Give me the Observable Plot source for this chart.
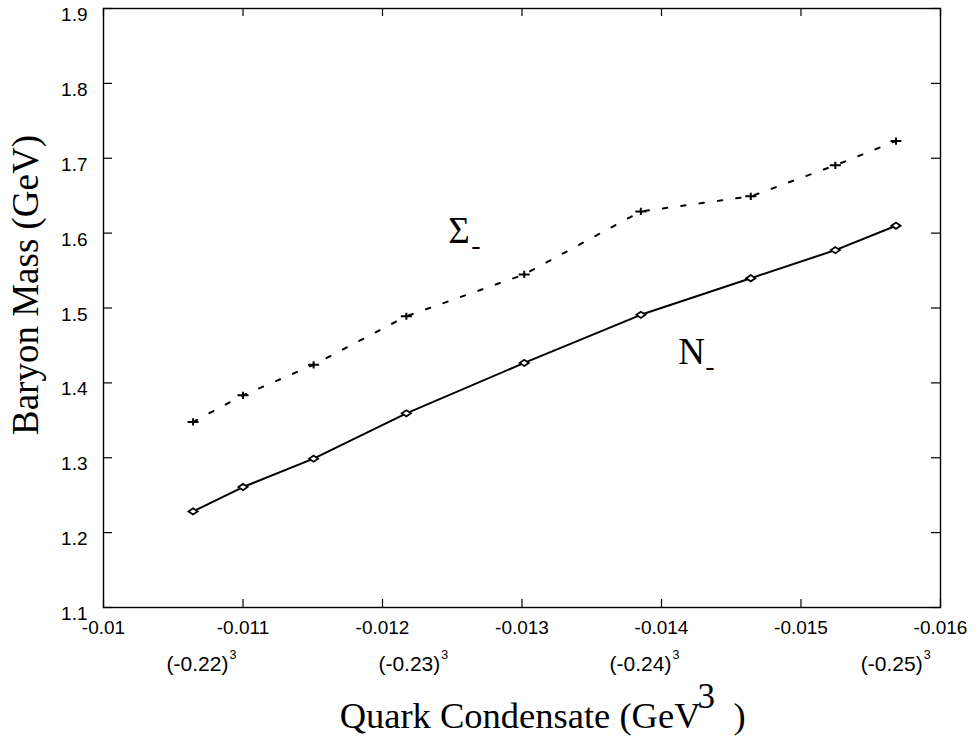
<!DOCTYPE html>
<html><head><meta charset="utf-8">
<script src="https://cdn.jsdelivr.net/npm/d3@7"></script>
<script src="https://cdn.jsdelivr.net/npm/@observablehq/plot@0.6"></script>
<style>
html,body{margin:0;padding:0;background:#fff;}
#chart{width:979px;height:736px;}
</style></head><body><div id="chart"></div>
<script>
// ---- data ----
const condensate = [-0.010642, -0.011000, -0.011506, -0.012171, -0.013016, -0.013852, -0.014640, -0.015246, -0.015681];
const nucleonMass = [1.2283, 1.2609, 1.2988, 1.3593, 1.4267, 1.4909, 1.5398, 1.5773, 1.6099];
const sigmaMass   = [1.3479, 1.3834, 1.4241, 1.4890, 1.5448, 1.6290, 1.6491, 1.6906, 1.7230];

const xTicks = [-0.010, -0.011, -0.012, -0.013, -0.014, -0.015, -0.016];
const xTickLabels = ["-0.01", "-0.011", "-0.012", "-0.013", "-0.014", "-0.015", "-0.016"];
const yTicks = [1.1, 1.2, 1.3, 1.4, 1.5, 1.6, 1.7, 1.8, 1.9];
const yTickLabels = ["1.1", "1.2", "1.3", "1.4", "1.5", "1.6", "1.7", "1.8", "1.9"];

const condensateRoots = [-0.22, -0.23, -0.24, -0.25];
const rootLabels = ["(-0.22)", "(-0.23)", "(-0.24)", "(-0.25)"];

const seriesNames = ["Σ", "N"];
const seriesLabelX = [-0.012472, -0.014120];
const seriesLabelY = [1.5862, 1.4258];

// ---- layout ----
const W = 979, H = 736;
const mL = 103, mR = 39, mT = 8, mB = 129;
const pw = W - mL - mR, ph = H - mT - mB;
const idx = condensate.map((_, i) => i);

const serif = "Liberation Serif, Times New Roman, serif";
const sans = "Liberation Sans, Arial, sans-serif";

const flatDiamond = {draw(ctx) { const w = 4.6, h = 3.1; ctx.moveTo(-w, 0); ctx.lineTo(0, -h); ctx.lineTo(w, 0); ctx.lineTo(0, h); ctx.closePath(); }};
const flatPlus = {draw(ctx) { const w = 5.5, h = 3.6; ctx.moveTo(-w, 0); ctx.lineTo(w, 0); ctx.moveTo(0, -h); ctx.lineTo(0, h); }};

const subscriptDx = [23, 27];

const chart = Plot.plot({
  width: W, height: H,
  marginLeft: mL, marginRight: mR, marginTop: mT, marginBottom: mB,
  style: {fontFamily: sans, background: "#fff", color: "black"},
  x: {domain: [-0.010, -0.016]},
  y: {domain: [1.1, 1.9]},
  marks: [
    Plot.frame({stroke: "black", strokeWidth: 1.4}),
    // inward ticks on all four sides
    Plot.tickX(xTicks, {x: d => d, insetTop: ph - 8, stroke: "black", strokeWidth: 1.2}),
    Plot.tickX(xTicks, {x: d => d, insetBottom: ph - 8, stroke: "black", strokeWidth: 1.2}),
    Plot.tickY(yTicks, {y: d => d, insetRight: pw - 9, stroke: "black", strokeWidth: 1.2}),
    Plot.tickY(yTicks, {y: d => d, insetLeft: pw - 9, stroke: "black", strokeWidth: 1.2}),
    Plot.axisX({ticks: xTicks, tickSize: 0, tickPadding: 13, fontSize: 19, fontFamily: sans,
      tickFormat: d => xTickLabels[xTicks.indexOf(d)], label: null}),
    Plot.axisY({ticks: yTicks, tickSize: 0, tickPadding: 16, fontSize: 19, fontFamily: sans, dy: 6.5,
      tickFormat: d => yTickLabels[yTicks.indexOf(d)], label: null}),
    // secondary labels (cube roots)
    Plot.text(condensateRoots, {x: d => d ** 3, frameAnchor: "bottom", text: (d, i) => rootLabels[i],
      textAnchor: "end", lineAnchor: "bottom", dx: 34.5, dy: 63, fontSize: 21, fontFamily: sans}),
    Plot.text(condensateRoots, {x: d => d ** 3, frameAnchor: "bottom", text: () => "3",
      textAnchor: "start", lineAnchor: "bottom", dx: 35.5, dy: 51.5, fontSize: 12.5, fontFamily: sans}),
    // series
    Plot.line(idx, {x: i => condensate[i], y: i => sigmaMass[i], stroke: "black", strokeWidth: 2, strokeDasharray: "4.5,14"}),
    Plot.line(idx, {x: i => condensate[i], y: i => nucleonMass[i], stroke: "black", strokeWidth: 2}),
    Plot.dot(idx, {x: i => condensate[i], y: i => sigmaMass[i], symbol: flatPlus, r: 4, stroke: "black", fill: "none", strokeWidth: 2}),
    Plot.dot(idx, {x: i => condensate[i], y: i => nucleonMass[i], symbol: flatDiamond, r: 4, stroke: "black", fill: "white", strokeWidth: 1.8}),
    // series labels
    Plot.text(seriesNames, {x: (d, i) => seriesLabelX[i], y: (d, i) => seriesLabelY[i], text: d => d,
      textAnchor: "start", lineAnchor: "bottom", fontSize: 37, fontFamily: serif}),
    Plot.text(seriesNames, {filter: (d, i) => i === 0, x: (d, i) => seriesLabelX[0], y: (d, i) => seriesLabelY[0], text: () => "-",
      textAnchor: "start", lineAnchor: "bottom", dx: subscriptDx[0], dy: 11, fontSize: 28, fontFamily: serif}),
    Plot.text(seriesNames, {filter: (d, i) => i === 1, x: (d, i) => seriesLabelX[1], y: (d, i) => seriesLabelY[1], text: () => "-",
      textAnchor: "start", lineAnchor: "bottom", dx: subscriptDx[1], dy: 11, fontSize: 28, fontFamily: serif}),
    // axis titles
    Plot.text(["Baryon Mass (GeV)"], {frameAnchor: "left", text: d => d, rotate: -90, dx: -77, dy: -23,
      textAnchor: "middle", lineAnchor: "middle", fontSize: 37, fontFamily: serif}),
    Plot.text(["Quark Condensate (GeV"], {frameAnchor: "bottom", text: d => d, textAnchor: "end", lineAnchor: "bottom",
      dx: 178.5, dy: 120, fontSize: 36.5, fontFamily: serif}),
    Plot.text(["3"], {frameAnchor: "bottom", text: d => d, textAnchor: "start", lineAnchor: "bottom",
      dx: 175.5, dy: 100, fontSize: 35, fontFamily: serif}),
    Plot.text([")"], {frameAnchor: "bottom", text: d => d, textAnchor: "start", lineAnchor: "bottom",
      dx: 211.5, dy: 120, fontSize: 36.5, fontFamily: serif})
  ]
});
document.getElementById("chart").appendChild(chart);
</script>
</body></html>
